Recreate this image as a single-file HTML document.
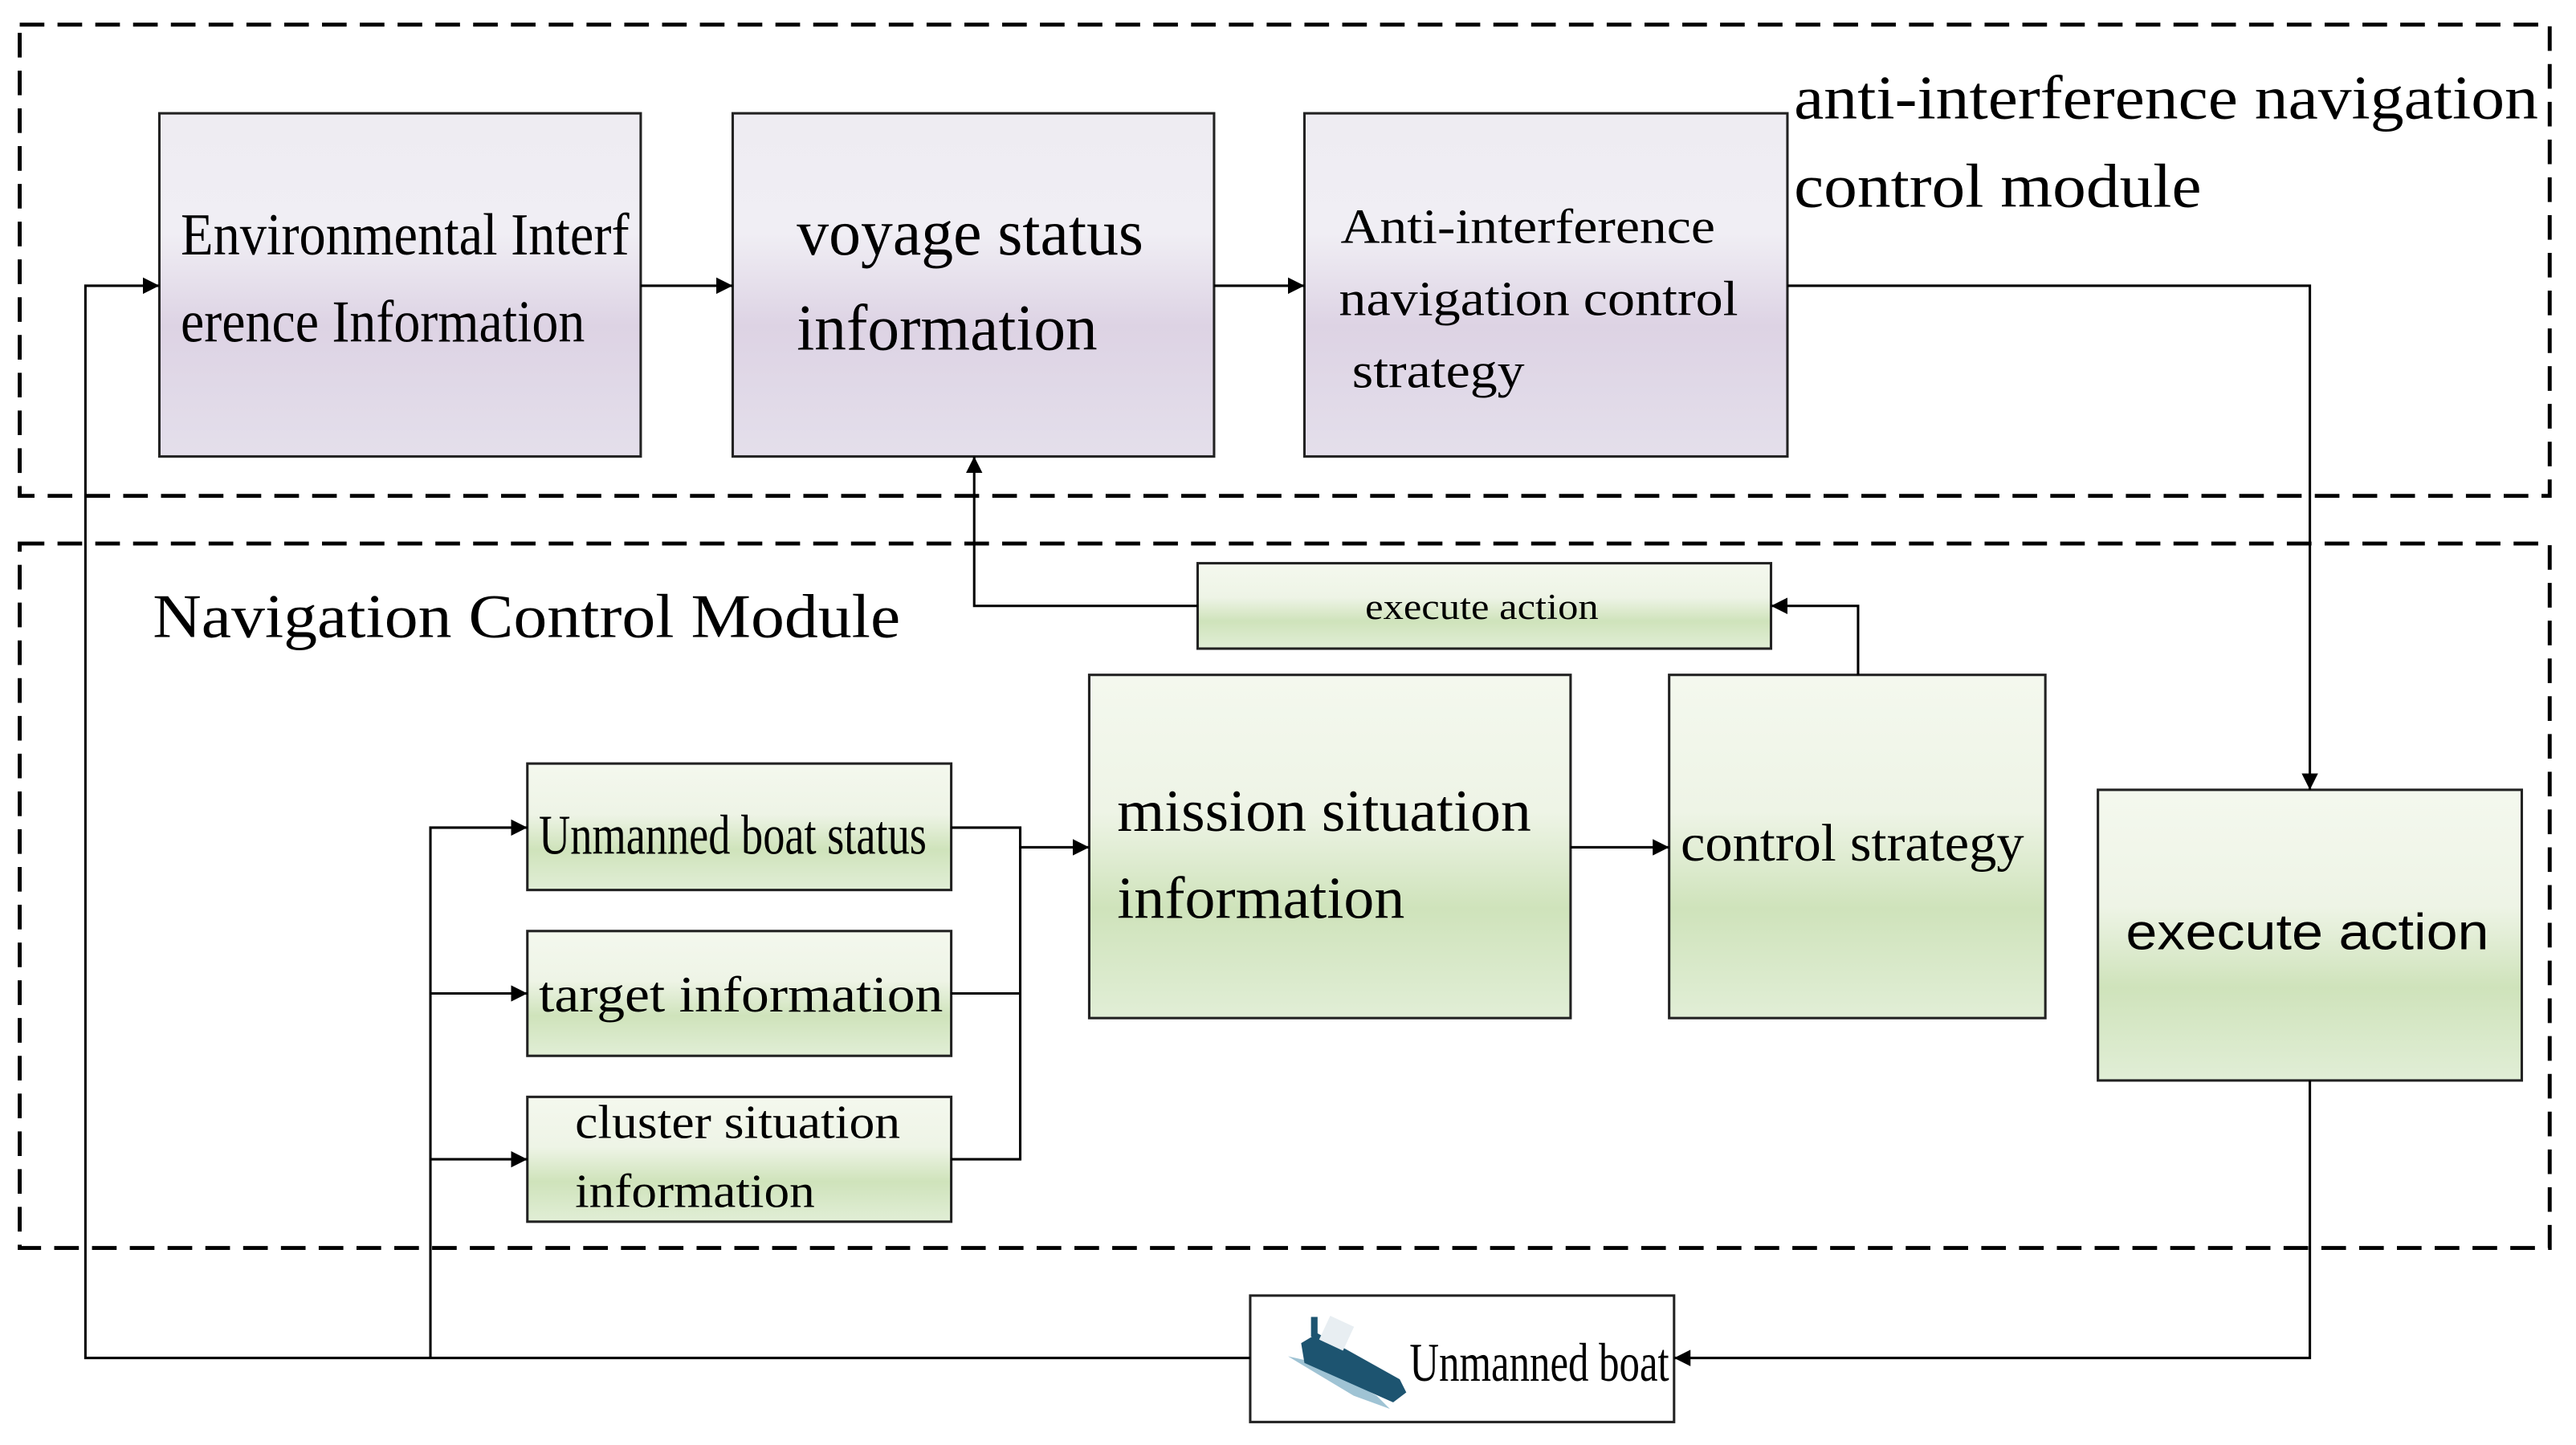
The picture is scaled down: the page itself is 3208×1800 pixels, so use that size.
<!DOCTYPE html>
<html><head><meta charset="utf-8"><style>
html,body{margin:0;padding:0;background:#fff;}
svg{display:block;}
text{font-family:"Liberation Serif",serif;fill:#000;}
</style></head><body>
<svg width="3208" height="1800" viewBox="0 0 1568 880" preserveAspectRatio="none" xmlns="http://www.w3.org/2000/svg">
<defs>
<linearGradient id="lav" x1="0" y1="0" x2="0" y2="1">
<stop offset="0" stop-color="#eeecf2"/><stop offset="0.35" stop-color="#f0eef4"/><stop offset="0.62" stop-color="#ddd3e4"/><stop offset="1" stop-color="#e4dfeb"/>
</linearGradient>
<linearGradient id="grn" x1="0" y1="0" x2="0" y2="1">
<stop offset="0" stop-color="#f4f8ee"/><stop offset="0.4" stop-color="#eef4e6"/><stop offset="0.68" stop-color="#cfe3bb"/><stop offset="1" stop-color="#e1eed6"/>
</linearGradient>
<marker id="ar" viewBox="0 0 10 10" refX="10" refY="5" markerWidth="10" markerHeight="10" markerUnits="userSpaceOnUse" orient="auto">
<path d="M0,0 L10,5 L0,10 z" fill="#000"/></marker>
</defs>
<g fill="none" stroke="#000" stroke-width="2.4" stroke-dasharray="15,8">
<rect x="12" y="15" width="1540" height="287"/>
<rect x="12" y="331" width="1540" height="429"/>
</g>
<g stroke="#222" stroke-width="1.5">
<rect x="97" y="69" width="293" height="209" fill="url(#lav)"/>
<rect x="446" y="69" width="293" height="209" fill="url(#lav)"/>
<rect x="794" y="69" width="294" height="209" fill="url(#lav)"/>
<rect x="729" y="343" width="349" height="52" fill="url(#grn)"/>
<rect x="663" y="411" width="293" height="209" fill="url(#grn)"/>
<rect x="1016" y="411" width="229" height="209" fill="url(#grn)"/>
<rect x="1277" y="481" width="258" height="177" fill="url(#grn)"/>
<rect x="321" y="465" width="258" height="77" fill="url(#grn)"/>
<rect x="321" y="567" width="258" height="76" fill="url(#grn)"/>
<rect x="321" y="668" width="258" height="76" fill="url(#grn)"/>
<rect x="761" y="789" width="258" height="77" fill="#fff"/>
</g>
<g fill="none" stroke="#000" stroke-width="1.5">
<path d="M390,174 H446" marker-end="url(#ar)"/>
<path d="M739,174 H794" marker-end="url(#ar)"/>
<path d="M1088,174 H1406 V481" marker-end="url(#ar)"/>
<path d="M1406,658 V827 H1019" marker-end="url(#ar)"/>
<path d="M761,827 H52 V174 H97" marker-end="url(#ar)"/>
<path d="M262,827 V504 H321" marker-end="url(#ar)"/>
<path d="M262,605 H321" marker-end="url(#ar)"/>
<path d="M262,706 H321" marker-end="url(#ar)"/>
<path d="M579,504 H621 V706 H579"/>
<path d="M579,605 H621"/>
<path d="M621,516 H663" marker-end="url(#ar)"/>
<path d="M956,516 H1016" marker-end="url(#ar)"/>
<path d="M1131,411 V369 H1078" marker-end="url(#ar)"/>
<path d="M729,369 H593 V278" marker-end="url(#ar)"/>
</g>
<text x="1092" y="72" font-size="38" textLength="453" lengthAdjust="spacingAndGlyphs">anti-interference navigation</text>
<text x="1092" y="126" font-size="38" textLength="248" lengthAdjust="spacingAndGlyphs">control module</text>
<text x="93" y="388" font-size="38" textLength="455" lengthAdjust="spacingAndGlyphs">Navigation Control Module</text>
<text x="110" y="155" font-size="36" textLength="273" lengthAdjust="spacingAndGlyphs">Environmental Interf</text>
<text x="110" y="208" font-size="36" textLength="246" lengthAdjust="spacingAndGlyphs">erence Information</text>
<text x="485" y="155" font-size="40" textLength="211" lengthAdjust="spacingAndGlyphs">voyage status</text>
<text x="485" y="213" font-size="40" textLength="183" lengthAdjust="spacingAndGlyphs">information</text>
<text x="816" y="148" font-size="30" textLength="228" lengthAdjust="spacingAndGlyphs">Anti-interference</text>
<text x="815" y="192" font-size="30" textLength="243" lengthAdjust="spacingAndGlyphs">navigation control</text>
<text x="823" y="236" font-size="30" textLength="105" lengthAdjust="spacingAndGlyphs">strategy</text>
<text x="831" y="377" font-size="22" textLength="142" lengthAdjust="spacingAndGlyphs">execute action</text>
<text x="680" y="506" font-size="36" textLength="252" lengthAdjust="spacingAndGlyphs">mission situation</text>
<text x="680" y="559" font-size="36" textLength="175" lengthAdjust="spacingAndGlyphs">information</text>
<text x="1023" y="524" font-size="32" textLength="209" lengthAdjust="spacingAndGlyphs">control strategy</text>
<text x="1294" y="578" font-size="31" textLength="221" lengthAdjust="spacingAndGlyphs" style="font-family:'Liberation Sans',sans-serif">execute action</text>
<text x="328" y="520" font-size="34" textLength="236" lengthAdjust="spacingAndGlyphs">Unmanned boat status</text>
<text x="328" y="616" font-size="31" textLength="246" lengthAdjust="spacingAndGlyphs">target information</text>
<text x="350" y="693" font-size="29" textLength="198" lengthAdjust="spacingAndGlyphs">cluster situation</text>
<text x="350" y="735" font-size="29" textLength="146" lengthAdjust="spacingAndGlyphs">information</text>
<text x="858" y="841" font-size="33" textLength="158" lengthAdjust="spacingAndGlyphs">Unmanned boat</text>
<g transform="translate(780,800)">
<path d="M4,26 L44,50 L66,58 L58,50 L22,30 z" fill="#9fc3d4"/>
<path d="M12,18 L22,12 L72,40 L76,48 L68,54 L14,30 z" fill="#1d5470"/>
<rect x="26" y="4" width="16" height="16" fill="#e8eef2" transform="rotate(25 34 11)"/>
<rect x="18" y="2" width="4" height="12" fill="#1d5470"/>
</g>
</svg>
</body></html>
